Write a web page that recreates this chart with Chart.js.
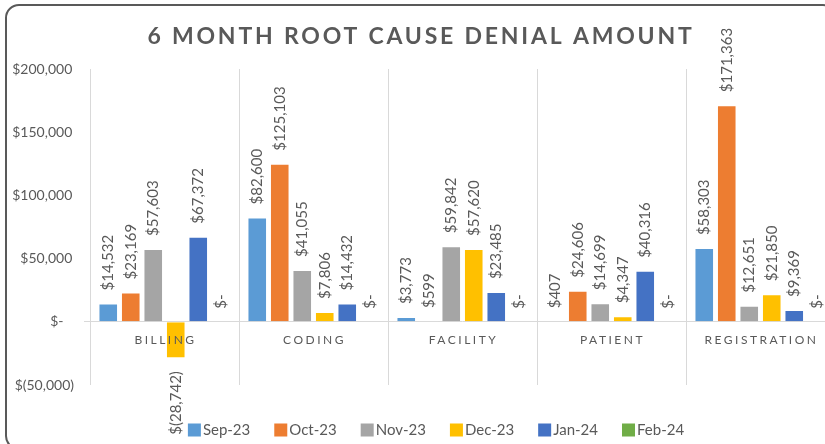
<!DOCTYPE html>
<html>
<head>
<meta charset="utf-8">
<script src="https://cdn.jsdelivr.net/npm/chart.js@4.4.1/dist/chart.umd.min.js"></script>
<style>
  body { margin: 0; width: 825px; height: 444px; overflow: hidden; background: #fff; position: relative; }
  #frame { position: absolute; left: 5px; top: 4px; width: 832px; height: 446px; border: 2px solid #595959; border-radius: 14px; box-sizing: border-box; }
  #c { position: absolute; left: 0; top: 0; }
</style>
</head>
<body>
<div id="frame"></div>
<canvas id="c" width="850" height="444"></canvas>
<script>
const categories = ['BILLING', 'CODING', 'FACILITY', 'PATIENT', 'REGISTRATION'];
const months = ['Sep-23', 'Oct-23', 'Nov-23', 'Dec-23', 'Jan-24', 'Feb-24'];
const colors = ['#5B9BD5', '#ED7D31', '#A5A5A5', '#FFC000', '#4472C4', '#70AD47'];

const sep23 = [14532, 82600, 3773, 407, 58303];
const oct23 = [23169, 125103, 599, 24606, 171363];
const nov23 = [57603, 41055, 59842, 14699, 12651];
const dec23 = [-28742, 7806, 57620, 4347, 21850];
const jan24 = [67372, 14432, 23485, 40316, 9369];
const feb24 = [0, 0, 0, 0, 0];

const yTicks = [200000, 150000, 100000, 50000, 0, -50000];

const TEXT = '#595959';
const FONT = "Lato, 'Open Sans', sans-serif";

function money(v) {
    if (v === 0) return '$-';
    const s = Math.abs(v).toLocaleString('en-US');
    return v < 0 ? '$(' + s + ')' : '$' + s;
}

const overlay = {
    id: 'overlay',
    afterDatasetsDraw(chart) {
        const { ctx, scales: { x, y } } = chart;
        ctx.save();
        ctx.fillStyle = TEXT;

        // value labels, rotated
        ctx.font = '15px ' + FONT;
        ctx.textBaseline = 'middle';
        chart.data.datasets.forEach((ds, i) => {
            chart.getDatasetMeta(i).data.forEach((bar, j) => {
                const v = ds.data[j];
                ctx.save();
                ctx.translate(bar.x, v < 0 ? bar.y + 13 : bar.y - 13);
                ctx.rotate(-Math.PI / 2);
                ctx.textAlign = v < 0 ? 'right' : 'left';
                ctx.fillText(money(v), 0, 0);
                ctx.restore();
            });
        });

        // category names next to the zero line
        ctx.font = '12px ' + FONT;
        ctx.letterSpacing = '2.5px';
        ctx.textAlign = 'center';
        const yl = y.getPixelForValue(0) + 18;
        categories.forEach((c, i) => {
            ctx.fillText(c, x.getPixelForValue(i) + 1, yl);
        });
        ctx.restore();
    },
    afterDraw(chart) {
        const { ctx } = chart;
        ctx.save();
        ctx.fillStyle = TEXT;
        ctx.textBaseline = 'middle';

        // title
        ctx.font = 'bold 23px ' + FONT;
        ctx.letterSpacing = '2.8px';
        ctx.textAlign = 'center';
        ctx.fillText('6 MONTH ROOT CAUSE DENIAL AMOUNT', 421, 37);

        // legend
        ctx.letterSpacing = '0px';
        ctx.font = '15px ' + FONT;
        ctx.textAlign = 'left';
        const box = 13, gap = 2, space = 24;
        const items = chart.data.datasets.map(ds => ({ label: ds.label, color: ds.backgroundColor, w: ctx.measureText(ds.label).width }));
        const total = items.reduce((a, it) => a + box + gap + it.w, 0) + space * (items.length - 1);
        let lx = 436 - total / 2;
        const ly = 430;
        items.forEach(it => {
            ctx.fillStyle = it.color;
            ctx.fillRect(lx, ly - box / 2, box, box);
            ctx.fillStyle = TEXT;
            ctx.fillText(it.label, lx + box + gap, ly);
            lx += box + gap + it.w + space;
        });
        ctx.restore();
    }
};

const seriesData = [sep23, oct23, nov23, dec23, jan24, feb24];

new Chart(document.getElementById('c'), {
    type: 'bar',
    data: {
        labels: categories,
        datasets: months.map((m, i) => ({
            label: m,
            data: seriesData[i],
            backgroundColor: colors[i],
            borderColor: 'rgba(255,255,255,0.7)',
            borderWidth: 1,
            categoryPercentage: 0.906,
            barPercentage: 0.87
        }))
    },
    options: {
        responsive: false,
        animation: false,
        devicePixelRatio: 1,
        layout: { padding: { top: 69, bottom: 59, left: 0, right: 15 } },
        plugins: {
            legend: { display: false },
            title: { display: false },
            tooltip: { enabled: false }
        },
        scales: {
            x: {
                grid: { offset: true, color: '#D9D9D9', drawTicks: false },
                border: { display: false },
                ticks: { display: false },
                afterFit: s => { s.height = 0; }
            },
            y: {
                min: -50000,
                max: 200000,
                afterBuildTicks: s => { s.ticks = yTicks.map(v => ({ value: v })); },
                afterFit: s => { s.width = 90; },
                border: { display: false },
                grid: {
                    color: c => (c.tick && c.tick.value === 0 ? '#D9D9D9' : 'transparent'),
                    tickLength: 6
                },
                ticks: {
                    color: TEXT,
                    padding: 10,
                    font: { size: 14, family: FONT },
                    callback: v => {
                        if (v === 0) return '$-\u2002\u2009\u2009';
                        return v < 0 ? money(v) : money(v) + '\u2009';
                    }
                }
            }
        }
    },
    plugins: [overlay]
});
</script>
</body>
</html>
